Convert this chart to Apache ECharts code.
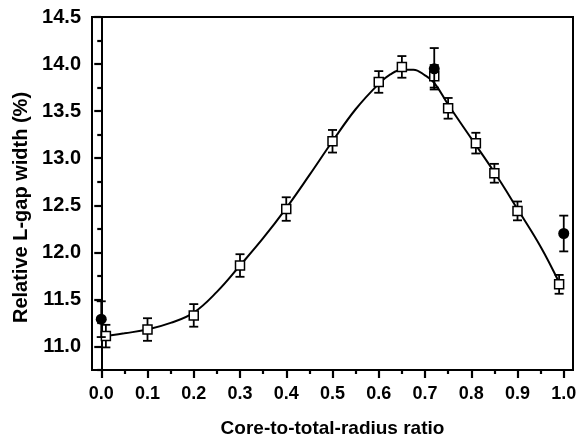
<!DOCTYPE html>
<html>
<head>
<meta charset="utf-8">
<script src="https://cdn.jsdelivr.net/npm/echarts@6/dist/echarts.min.js"></script>
<style>
  html, body { margin: 0; padding: 0; background: #fff; }
  #chart { width: 583px; height: 437px; }
</style>
</head>
<body>
<div id="chart"></div>
<script>
// measured points (open squares) with error bars
const squareX = [0.01, 0.1, 0.2, 0.3, 0.4, 0.5, 0.6, 0.65, 0.72, 0.75, 0.81, 0.85, 0.9, 0.99]
const squareY = [11.11, 11.18, 11.33, 11.86, 12.46, 13.18, 13.81, 13.97, 13.87, 13.53, 13.16, 12.84, 12.44, 11.66]
const squareErr = [0.12, 0.12, 0.12, 0.12, 0.125, 0.12, 0.115, 0.115, 0.12, 0.11, 0.11, 0.1, 0.1, 0.1]

// filled circles
const circleX = [0.0, 0.72, 1.0]
const circleY = [11.29, 13.95, 12.2]
const circleErr = [0.19, 0.22, 0.19]

// fitted curve
const fitX = [0.01, 0.05, 0.1, 0.15, 0.2, 0.25, 0.3, 0.35, 0.4, 0.45, 0.5, 0.55, 0.6, 0.625, 0.65, 0.675, 0.7, 0.72, 0.75, 0.8, 0.85, 0.9, 0.95, 0.99]
const fitY = [11.11, 11.14, 11.18, 11.25, 11.36, 11.58, 11.86, 12.15, 12.47, 12.82, 13.18, 13.52, 13.79, 13.89, 13.94, 13.94, 13.88, 13.8, 13.57, 13.21, 12.85, 12.46, 12.06, 11.68]

// tick positions
const xMajor = [0, 0.1, 0.2, 0.3, 0.4, 0.5, 0.6, 0.7, 0.8, 0.9, 1.0]
const xMinor = [0.05, 0.15, 0.25, 0.35, 0.45, 0.55, 0.65, 0.75, 0.85, 0.95]
const yMajor = [11.0, 11.5, 12.0, 12.5, 13.0, 13.5, 14.0, 14.5]
const yMinor = [10.75, 11.25, 11.75, 12.25, 12.75, 13.25, 13.75, 14.25]

const FONT = '"Liberation Sans", Arial, sans-serif'
const X_MIN = -0.02, X_MAX = 1.02, Y_MIN = 10.75, Y_MAX = 14.5

function renderErr(params, api) {
  const x = api.value(0)
  const y = api.value(1)
  const e = api.value(2)
  const top = api.coord([x, y + e])
  const bot = api.coord([x, y - e])
  const cap = 4.5
  const style = { stroke: '#000', lineWidth: 1.8 }
  return {
    type: 'group',
    children: [
      { type: 'line', shape: { x1: top[0], y1: top[1], x2: bot[0], y2: bot[1] }, style },
      { type: 'line', shape: { x1: top[0] - cap, y1: top[1], x2: top[0] + cap, y2: top[1] }, style },
      { type: 'line', shape: { x1: bot[0] - cap, y1: bot[1], x2: bot[0] + cap, y2: bot[1] }, style },
    ],
  }
}

const fmt = (v) => Number(v).toFixed(1)
const bold = { color: '#000', fontFamily: FONT, fontWeight: 'bold' }

const chart = echarts.init(document.getElementById('chart'), null, { renderer: 'canvas' })
chart.setOption({
  animation: false,
  grid: {
    left: 92, right: 10, top: 17, bottom: 67,
    outerBoundsMode: 'none', containLabel: false,
    show: true, borderColor: '#000', borderWidth: 2, backgroundColor: 'transparent',
  },
  xAxis: [
    {
      type: 'value', min: X_MIN, max: X_MAX, position: 'bottom',
      name: 'Core-to-total-radius ratio', nameLocation: 'middle', nameGap: 49,
      nameTextStyle: { ...bold, fontSize: 19 },
      axisLine: { show: true, lineStyle: { color: '#000', width: 2 } },
      axisTick: { show: true, length: 8, customValues: xMajor, lineStyle: { color: '#000', width: 2.2 } },
      axisLabel: { ...bold, fontSize: 18, margin: 15, customValues: xMajor, formatter: fmt },
      splitLine: { show: false },
    },
    {
      type: 'value', min: X_MIN, max: X_MAX, position: 'bottom',
      axisLine: { show: false },
      axisTick: { show: true, length: 4, customValues: xMinor, lineStyle: { color: '#000', width: 2.2 } },
      axisLabel: { show: false },
      splitLine: { show: false },
    },
  ],
  yAxis: [
    {
      type: 'value', min: Y_MIN, max: Y_MAX, position: 'left',
      name: 'Relative L-gap width (%)', nameLocation: 'middle', nameGap: 54, nameRotate: 90,
      nameTextStyle: { ...bold, fontSize: 20, padding: [0, 28, 0, 0] },
      axisLine: { show: true, lineStyle: { color: '#000', width: 2 } },
      axisTick: { show: true, length: 7, customValues: yMajor, lineStyle: { color: '#000', width: 2.2 } },
      axisLabel: { ...bold, fontSize: 20, margin: 11, customValues: yMajor, formatter: fmt },
      splitLine: { show: false },
    },
    {
      type: 'value', min: Y_MIN, max: Y_MAX, position: 'left',
      axisLine: { show: false },
      axisTick: { show: true, length: 4, customValues: yMinor, lineStyle: { color: '#000', width: 2.2 } },
      axisLabel: { show: false },
      splitLine: { show: false },
    },
  ],
  series: [
    {
      type: 'custom', renderItem: renderErr, z: 2,
      data: squareX.map((x, i) => [x, squareY[i], squareErr[i]]),
    },
    {
      type: 'line', smooth: 0.4, showSymbol: false, z: 3,
      lineStyle: { color: '#000', width: 2 },
      data: fitX.map((x, i) => [x, fitY[i]]),
    },
    {
      type: 'scatter', symbol: 'rect', symbolSize: 9, z: 4,
      itemStyle: { color: '#fff', borderColor: '#000', borderWidth: 1.5, opacity: 1 },
      data: squareX.map((x, i) => [x, squareY[i]]),
    },
    {
      type: 'custom', renderItem: renderErr, z: 5,
      data: circleX.map((x, i) => [x, circleY[i], circleErr[i]]),
    },
    {
      type: 'scatter', symbol: 'circle', symbolSize: 11, z: 6,
      itemStyle: { color: '#000', opacity: 1 },
      data: circleX.map((x, i) => [x, circleY[i]]),
    },
  ],
})
</script>
</body>
</html>
